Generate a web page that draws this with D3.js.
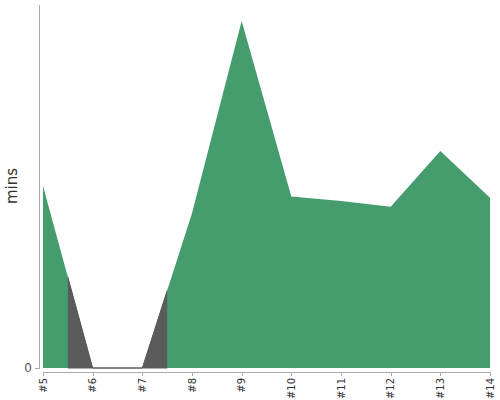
<!DOCTYPE html>
<html lang="en">
<head>
  <meta charset="UTF-8">
  <title>mins per round</title>
  <style>
    body {
      margin: 0;
      padding: 0;
      background-color: white;
      font-family: "DejaVu Sans", sans-serif;
    }

    .axis path,
    .axis line {
      stroke: #aaa;
      shape-rendering: crispEdges;
    }

    .axis text {
      fill: #333;
      font-size: 10px;
      font-family: "DejaVu Sans", sans-serif;
    }

    .y-title {
      fill: #333;
      font-size: 15px;
    }
  </style>
</head>
<body>
  <div id="chart"></div>

  <script src="https://d3js.org/d3.v7.min.js"></script>
  <script>
    // rounds along the bottom
    const rounds = ['#5', '#6', '#7', '#8', '#9', '#10', '#11', '#12', '#13', '#14'];
    // minutes per round
    const mins = [50, 0, 0, 42.5, 95.3, 47.1, 45.9, 44.3, 59.6, 46.8];
    // which rounds were played (false ones are drawn in grey)
    const played = [true, false, false, true, true, true, true, true, true, true];
    const yTicks = [0];

    const width = 500;
    const height = 400;

    const svg = d3.select('#chart').append('svg')
      .attr('width', width)
      .attr('height', height);

    const x = d3.scalePoint()
      .domain(rounds)
      .range([43, 490]);

    const y = d3.scaleLinear()
      .domain([0, 100])
      .range([368, 4]);

    const data = rounds.map((r, i) => ({ round: r, mins: mins[i], played: played[i] }));

    const area = d3.area()
      .x(d => x(d.round))
      .y0(y(0))
      .y1(d => y(d.mins));

    // whole area in green first
    svg.append('path')
      .datum(data)
      .attr('d', area)
      .attr('fill', '#459d6d');

    // grey over the strips that belong to unplayed rounds
    const step = x.step();
    const clip = svg.append('defs').append('clipPath').attr('id', 'unplayed');
    data.forEach((d, i) => {
      if (d.played) return;
      const left = i === 0 ? x(d.round) - 1 : x(d.round) - step / 2;
      const right = i === data.length - 1 ? x(d.round) + 1 : x(d.round) + step / 2;
      clip.append('rect')
        .attr('x', left)
        .attr('y', 0)
        .attr('width', right - left)
        .attr('height', height);
    });

    svg.append('path')
      .datum(data)
      .attr('clip-path', 'url(#unplayed)')
      .attr('d', area)
      .attr('fill', '#5b5b5b')
      .attr('stroke', '#5b5b5b')
      .attr('stroke-width', 1);

    // x axis, pushed a few pixels below the baseline
    const xAxis = svg.append('g')
      .attr('class', 'axis')
      .attr('transform', 'translate(0,372)')
      .call(d3.axisBottom(x).tickSize(4).tickSizeOuter(0).tickPadding(2));

    xAxis.selectAll('text')
      .attr('transform', 'rotate(-90)')
      .attr('text-anchor', 'end')
      .attr('x', -6)
      .attr('y', 0)
      .attr('dy', '0.33em');

    // y axis, offset to the left of the first point
    const yAxis = svg.append('g')
      .attr('class', 'axis')
      .attr('transform', 'translate(39,0)')
      .call(d3.axisLeft(y).tickValues(yTicks).tickSize(4).tickSizeOuter(0).tickPadding(3));

    yAxis.selectAll('text')
      .style('font-size', '12px')
      .style('fill', '#555');

    svg.append('text')
      .attr('class', 'y-title')
      .attr('transform', 'translate(17,186) rotate(-90)')
      .attr('text-anchor', 'middle')
      .text('mins');
  </script>
</body>
</html>
